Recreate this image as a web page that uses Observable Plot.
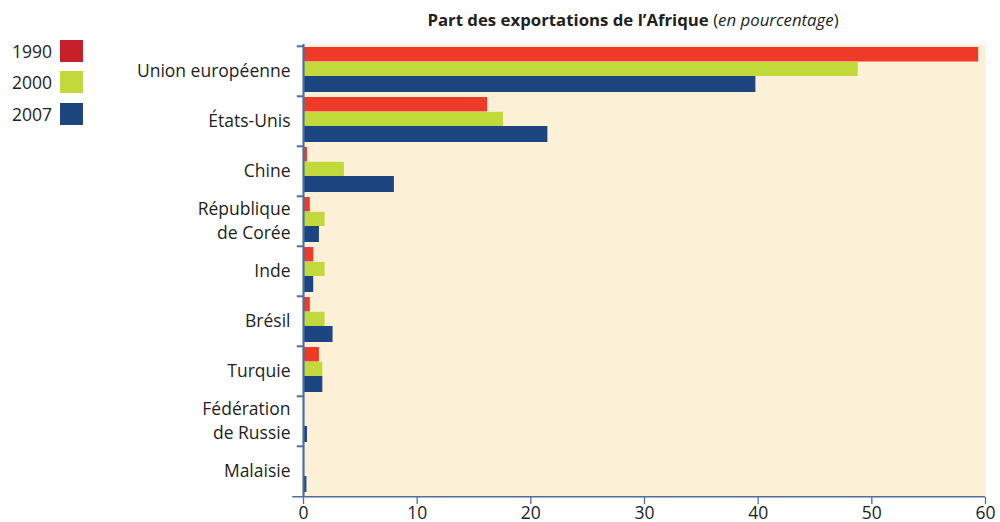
<!DOCTYPE html>
<html>
<head>
<meta charset="utf-8">
<script src="https://cdn.jsdelivr.net/npm/d3@7"></script>
<script src="https://cdn.jsdelivr.net/npm/@observablehq/plot@0.6"></script>
<style>
  html, body { margin: 0; padding: 0; background: #fff; }
  body { width: 1000px; height: 522px; position: relative; overflow: hidden; font-family: "Open Sans", sans-serif; color: #231f20; }
  #title { position: absolute; left: 303px; width: 660px; top: 8px; text-align: center; font-size: 16.8px; white-space: nowrap; }
  #title b { font-weight: 700; }
  #legend { position: absolute; left: 0; top: 39px; }
  .row { position: absolute; left: 0; height: 22px; width: 90px; }
  .row span { position: absolute; right: 38px; top: 0; font-size: 17.5px; line-height: 24px; }
  .row i { position: absolute; left: 60px; top: 1px; width: 23px; height: 22px; }
  #chart { position: absolute; left: 0; top: 0; }
</style>
</head>
<body>
<div id="title"><b>Part des exportations de l’Afrique</b> (<i>en pourcentage</i>)</div>
<div id="legend"></div>
<div id="chart"></div>
<script>
const categories = ["Union européenne", "États-Unis", "Chine", "République\nde Corée", "Inde", "Brésil", "Turquie", "Fédération\nde Russie", "Malaisie"];
const years = ["1990", "2000", "2007"];
const v1990 = [59.4, 16.2, 0.35, 0.6, 0.9, 0.6, 1.4, 0, 0];
const v2000 = [48.8, 17.6, 3.6, 1.9, 1.9, 1.9, 1.7, 0, 0];
const v2007 = [39.8, 21.5, 8.0, 1.4, 0.9, 2.6, 1.7, 0.35, 0.3];
const xTicks = [0, 10, 20, 30, 40, 50, 60];

const barColors = {"1990": "#ee3a26", "2000": "#c1d93b", "2007": "#1d4580"};
const legendColors = {"1990": "#c71f2a", "2000": "#c1d93b", "2007": "#1d4580"};
const axisColor = "#4f6f9f";

const series = {"1990": v1990, "2000": v2000, "2007": v2007};
const data = years.flatMap(y => categories.map((c, i) => ({cat: c, year: y, value: series[y][i]})));

// legend
const legend = document.getElementById("legend");
years.forEach((y, i) => {
  const row = document.createElement("div");
  row.className = "row";
  row.style.top = [0, 31, 63][i] + "px";
  row.innerHTML = `<span>${y}</span><i style="background:${legendColors[y]}"></i>`;
  legend.appendChild(row);
});

// bar insets within each category band (bar layout)
const insets = {"1990": [1, 34.5], "2000": [15.8, 20], "2007": [30, 4]};

const plot = Plot.plot({
  width: 1000,
  height: 522,
  marginLeft: 303,
  marginRight: 15,
  marginTop: 44,
  marginBottom: 25,
  style: {fontFamily: "Open Sans, sans-serif", color: "#231f20", background: "transparent", overflow: "visible"},
  x: {domain: [0, 60], ticks: xTicks, label: null},
  y: {domain: categories, padding: 0, label: null},
  marks: [
    Plot.frame({fill: "#fcf1d6", stroke: null}),
    ...years.map(y => Plot.barX(data.filter(d => d.year === y && d.value > 0), {
      x: "value", y: "cat", fill: barColors[y],
      insetTop: insets[y][0], insetBottom: insets[y][1]
    })),
    // boundary ticks on the left of the y axis (top edge of each band)
    Plot.ruleY(categories, {y: d => d, dy: -25.2, x1: -0.55, x2: 0, stroke: axisColor, strokeWidth: 2}),
    // y axis line
    Plot.ruleX([0], {stroke: axisColor, strokeWidth: 2.2}),
    // x axis line extending slightly left
    Plot.ruleY([categories[categories.length - 1]], {y: d => d, dy: 25.2, x1: -0.95, x2: 60, stroke: axisColor, strokeWidth: 1.5}),
    Plot.axisY({tickSize: 0, tickPadding: 13, fontSize: 17.5, lineHeight: 1.38, dy: -2, fill: "#231f20", label: null}),
    Plot.axisX({ticks: xTicks, tickSize: 7, tickPadding: 2, fontSize: 17.5, stroke: axisColor, strokeWidth: 1.3, fill: "#231f20", label: null})
  ]
});
document.getElementById("chart").appendChild(plot);
</script>
</body>
</html>
